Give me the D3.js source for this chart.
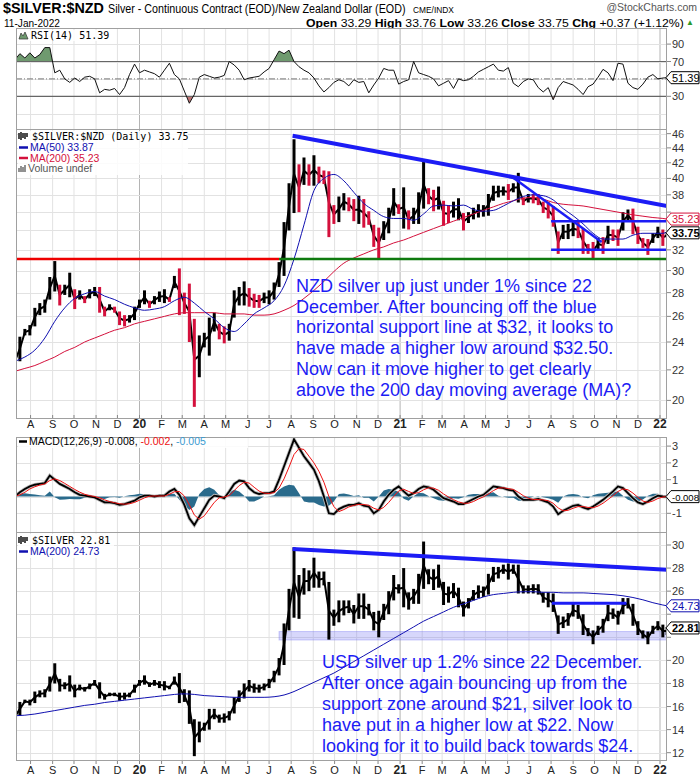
<!DOCTYPE html>
<html><head><meta charset="utf-8">
<script src="https://cdn.jsdelivr.net/npm/d3@7/dist/d3.min.js"></script>
<style>body{margin:0;background:#fff}svg{display:block}</style>
</head><body>
<svg id="c" width="700" height="780"></svg>
<script>
// ---------------- DATA ----------------
const weekStart = "2019-07-10";          // weekly samples (mid-week), 131 weeks + last day
const lastDay = "2022-01-11";
const monthLetters = ["J","F","M","A","M","J","J","A","S","O","N","D"];

// $SILVER:$NZD weekly high / low
const nzdHigh = [
22.9,24.4,25.0,25.3,26.7,27.1,27.4,29.4,30.9,28.7,
28.7,29.8,28.3,28.2,27.7,28.3,28.5,28.5,26.8,27.0,
26.8,26.4,26.1,26.1,26.8,27.4,28.2,27.3,27.7,28.1,
28.3,27.6,29.5,30.2,28.0,28.8,25.8,24.5,24.7,25.9,
26.3,25.4,25.2,25.4,28.2,28.5,29.0,28.4,27.9,27.8,
28.0,28.2,28.9,30.8,34.9,39.4,45.2,41.8,42.7,41.8,
43.0,41.5,41.0,40.9,36.8,37.8,38.2,37.7,37.5,37.9,
37.5,36.1,34.6,34.3,35.0,36.5,38.8,36.9,38.9,36.2,
36.5,38.3,42.1,38.8,38.6,39.0,37.3,36.8,37.2,37.6,
35.9,36.0,36.5,36.9,36.8,38.1,39.1,39.1,39.0,39.3,
39.4,40.7,37.7,38.1,38.1,38.1,37.2,37.2,36.7,33.9,
34.6,34.7,35.0,34.9,34.2,32.6,32.8,33.2,33.3,34.5,
34.1,34.1,36.0,36.3,36.4,34.4,33.2,33.1,33.7,34.4,
34.1,33.76];
const nzdLow = [
22.3,22.6,24.5,24.5,25.2,26.1,26.3,27.4,28.1,26.9,
27.8,27.6,26.6,27.4,27.1,27.5,27.7,26.3,26.0,26.5,
26.3,25.3,25.2,25.5,25.7,26.7,27.0,26.7,27.0,27.2,
27.1,27.2,28.4,26.1,26.2,24.0,19.6,21.5,23.6,23.0,
24.8,24.2,23.9,24.1,25.9,26.9,26.9,26.8,26.7,26.7,
27.1,27.0,27.4,28.5,29.5,34.0,35.9,36.0,39.2,39.1,
39.1,39.4,39.3,33.3,34.7,34.9,36.2,36.1,35.0,34.7,
34.3,34.6,32.3,31.1,33.0,33.7,35.6,35.8,34.2,34.1,
34.7,34.7,36.4,36.9,36.1,36.3,34.5,34.8,35.4,35.1,
34.0,34.8,35.2,35.4,35.5,35.6,37.3,37.7,37.9,37.4,
38.3,37.1,36.8,37.1,37.0,36.8,35.9,35.3,34.4,31.6,
33.1,33.1,33.4,33.2,31.6,31.6,31.0,32.0,31.6,32.6,
32.9,32.4,34.0,35.0,33.6,32.6,32.2,31.5,32.7,33.2,
32.4,33.26];

// $SILVER (USD) weekly high / low
const usdHigh = [
15.3,16.4,16.6,16.6,17.3,17.4,17.5,18.6,19.75,18.4,
18.1,18.7,17.9,17.9,17.7,18.0,18.3,18.1,17.1,17.2,
17.2,17.2,17.2,17.2,17.9,18.3,18.7,18.1,18.3,18.2,
18.2,17.8,18.6,18.9,17.5,17.4,14.9,14.7,14.6,15.8,
15.8,15.3,15.4,15.6,16.8,17.4,18.0,18.3,18.0,17.9,
18.0,18.4,19.1,20.2,23.2,26.2,29.8,27.4,28.0,27.8,
28.9,27.7,27.7,26.8,24.4,25.2,25.2,25.2,24.8,25.8,
25.8,24.9,24.2,24.3,24.9,26.0,27.4,26.6,28.0,25.9,
26.2,27.5,30.3,27.9,27.9,28.3,26.8,26.4,26.7,26.3,
25.1,25.4,26.1,26.5,26.4,27.5,28.1,28.1,28.3,28.4,
28.3,28.3,26.5,26.5,26.6,26.6,25.9,25.9,25.8,23.9,
23.8,24.1,24.9,24.8,24.0,22.8,22.6,23.0,23.6,24.8,
24.5,24.3,25.4,25.4,24.9,23.4,22.6,22.5,23.0,23.4,
23.1,22.9];
const usdLow = [
14.9,15.2,16.3,16.1,16.3,16.8,16.8,17.3,18.0,17.3,
17.5,17.3,16.8,17.4,17.3,17.5,17.8,16.7,16.6,16.9,
16.9,16.5,16.6,16.8,17.2,17.8,17.9,17.7,17.8,17.6,
17.4,17.5,17.9,16.3,16.4,14.5,11.7,12.9,13.9,14.0,
14.9,14.6,14.6,14.8,15.4,16.4,16.7,17.3,17.2,17.2,
17.4,17.6,18.1,18.7,19.6,22.6,23.7,23.6,25.7,26.0,
26.3,26.3,26.5,21.8,23.0,23.3,23.9,24.1,23.2,23.6,
23.6,23.9,22.6,22.0,23.5,24.0,25.2,25.8,24.6,24.4,
24.9,24.9,26.2,26.6,26.1,26.3,24.8,25.0,25.4,24.6,
23.8,24.5,25.2,25.4,25.5,25.7,26.8,27.1,27.5,27.0,
27.5,25.8,25.8,25.8,25.8,25.7,25.0,24.6,24.2,22.3,
22.8,23.0,23.8,23.6,22.2,22.1,21.4,22.2,22.4,23.4,
23.6,23.1,24.0,24.5,23.0,22.2,21.9,21.4,22.3,22.6,
22.0,22.2];

// moving averages sampled every second week (+ last day)
const nzdMa50 = [
22.6,22.9,23.4,24.3,25.6,26.7,27.5,27.9,28.1,27.7,
27.4,27.0,26.7,26.5,26.6,26.8,27.3,27.6,27.1,26.4,
25.8,25.1,24.8,25.4,26.2,26.7,27.3,28.6,31.1,34.6,
38.5,40.0,40.5,39.7,38.3,37.0,36.2,35.5,35.3,35.3,
35.1,35.8,36.7,36.8,36.7,36.8,36.3,36.1,36.2,36.7,
37.3,37.8,38.0,37.9,37.4,36.4,35.6,34.7,33.7,33.1,
33.1,33.1,33.5,33.7,33.7,33.7,33.87];
const nzdMa200 = [
21.9,22.1,22.3,22.6,22.9,23.3,23.6,24.0,24.3,24.6,
24.9,25.1,25.4,25.6,25.8,26.0,26.2,26.3,26.3,26.3,
26.3,26.2,26.2,26.2,26.1,26.1,26.2,26.5,26.9,27.5,
28.2,29.0,29.9,30.7,31.2,31.6,32.0,32.3,32.7,33.0,
33.4,33.8,34.2,34.6,35.0,35.4,35.8,36.2,36.6,37.0,
37.3,37.6,37.7,37.5,37.1,36.9,36.8,36.7,36.5,36.3,
36.1,35.9,35.7,35.55,35.4,35.3,35.23];
const usdMa200 = [
15.2,15.25,15.35,15.5,15.65,15.8,15.95,16.1,16.2,16.35,
16.45,16.55,16.65,16.75,16.85,16.95,17.05,17.1,17.05,16.95,
16.9,16.85,16.8,16.8,16.8,16.8,16.85,17.0,17.3,17.7,
18.1,18.5,18.9,19.4,19.9,20.4,20.9,21.4,21.9,22.4,
22.9,23.4,23.8,24.2,24.6,24.9,25.2,25.5,25.7,25.8,
25.9,25.95,25.95,25.9,25.9,25.85,25.85,25.85,25.8,25.75,
25.7,25.6,25.45,25.25,25.0,24.8,24.73];

// RSI(14) weekly
const rsi = [
72,79,74,80,74,78,86,86,57,60,
50,46,51,47,52,53,50,34,38,37,
39,32,40,55,67,57,60,58,56,52,
60,68,55,50,36,22,32,52,55,53,
51,52,54,70,66,60,49,51,52,53,
58,62,72,82,79,83,70,64,60,57,
51,42,35,40,46,49,47,42,49,46,
47,34,43,51,62,60,60,44,47,49,
70,57,55,53,50,42,45,48,39,50,
48,49,53,58,61,64,67,60,59,63,
45,41,47,50,49,40,35,40,26,40,
47,45,43,38,32,41,44,52,61,57,
48,68,67,45,40,38,44,52,55,50,
51,51.39];

// MACD(12,26,9) weekly: line, signal, histogram
const macd = [
0.0,0.25,0.45,0.6,0.7,0.75,0.8,1.25,1.0,0.75,
0.6,0.45,0.25,0.1,0.05,0.0,-0.05,-0.2,-0.35,-0.35,
-0.4,-0.5,-0.45,-0.35,-0.25,-0.05,0.05,0.05,0.0,0.05,
0.05,0.3,0.45,0.1,-0.5,-1.3,-1.7,-1.2,-0.7,-0.2,
0.05,0.0,-0.1,0.3,0.75,0.95,0.9,0.5,0.25,0.15,
0.2,0.2,0.3,1.0,1.8,2.6,3.4,2.9,2.4,2.0,
1.6,0.9,0.0,-1.0,-1.05,-0.75,-0.6,-0.5,-0.5,-0.4,
-0.55,-0.6,-1.0,-0.8,-0.3,0.1,0.4,0.6,0.3,0.05,
0.2,0.45,0.6,0.55,0.4,0.15,-0.1,-0.2,-0.3,-0.45,
-0.45,-0.3,-0.15,0.0,0.1,0.35,0.6,0.55,0.5,0.4,
0.35,0.0,-0.2,-0.2,-0.2,-0.15,-0.25,-0.35,-0.6,-1.05,
-0.85,-0.7,-0.55,-0.5,-0.65,-0.75,-0.6,-0.4,-0.2,0.05,
0.3,0.6,0.5,0.2,-0.1,-0.35,-0.45,-0.3,-0.1,0.05,
0.0,-0.008];
const macdSignal = [
0.0,0.1,0.25,0.45,0.58,0.68,0.75,0.95,1.05,0.95,
0.78,0.6,0.42,0.26,0.13,0.05,0.0,-0.08,-0.2,-0.3,
-0.37,-0.43,-0.46,-0.43,-0.35,-0.22,-0.08,0.02,0.03,0.03,
0.03,0.13,0.28,0.3,0.03,-0.5,-1.1,-1.35,-1.15,-0.75,
-0.35,-0.07,-0.03,0.06,0.35,0.65,0.85,0.8,0.55,0.32,
0.2,0.18,0.23,0.5,1.05,1.75,2.5,2.85,2.8,2.4,
2.0,1.5,0.85,0.0,-0.6,-0.9,-0.78,-0.62,-0.53,-0.47,
-0.48,-0.52,-0.7,-0.8,-0.65,-0.35,0.0,0.33,0.43,0.3,
0.18,0.23,0.4,0.52,0.5,0.37,0.15,-0.03,-0.19,-0.32,
-0.4,-0.4,-0.3,-0.15,-0.02,0.15,0.35,0.5,0.52,0.47,
0.42,0.25,0.05,-0.1,-0.18,-0.18,-0.2,-0.25,-0.4,-0.68,
-0.85,-0.82,-0.7,-0.6,-0.6,-0.65,-0.67,-0.57,-0.4,-0.18,
0.05,0.3,0.45,0.4,0.2,-0.05,-0.27,-0.35,-0.27,-0.12,
-0.03,-0.002];
const macdHist = [
0.0,0.15,0.2,0.15,0.12,0.07,0.05,0.3,-0.05,-0.2,
-0.18,-0.15,-0.17,-0.16,-0.08,-0.05,-0.05,-0.12,-0.15,-0.05,
-0.03,-0.07,0.01,0.08,0.1,0.17,0.13,0.03,-0.03,0.02,
0.02,0.17,0.17,-0.2,-0.53,-0.8,-0.6,0.15,0.45,0.55,
0.4,0.07,-0.07,0.24,0.4,0.3,0.05,-0.3,-0.3,-0.17,
0.0,0.02,0.07,0.4,0.6,0.7,0.65,0.2,-0.3,-0.35,
-0.35,-0.5,-0.6,-0.55,-0.3,0.15,0.18,0.12,0.03,0.07,
-0.07,-0.08,-0.3,0.0,0.35,0.45,0.4,0.27,-0.13,-0.25,
0.02,0.22,0.2,0.03,-0.1,-0.22,-0.25,-0.17,-0.11,-0.13,
-0.05,0.1,0.15,0.15,0.12,0.2,0.25,0.05,-0.02,-0.07,
-0.07,-0.25,-0.25,-0.1,-0.02,0.03,-0.05,-0.1,-0.2,-0.37,
0.0,0.12,0.15,0.1,-0.05,-0.1,0.07,0.17,0.2,0.23,
0.25,0.3,0.05,-0.2,-0.3,-0.3,-0.18,0.05,0.17,0.17,
0.03,-0.005];

// drawn annotations (dates, values)
const nzdTrendDates = ["2020-08-03","2022-01-11"], nzdTrendVals = [45.7, 36.7];
const nzdTrend2Dates = ["2021-06-07","2021-10-11"], nzdTrend2Vals = [40.2, 32.8];
const nzdBoxDates = ["2021-08-01","2022-01-11"], nzdBoxVals = [35.0, 32.0];
const nzdSupportVal = 31.1, nzdSupportSplit = "2020-07-15";
const usdTrendDates = ["2020-08-03","2022-01-11"], usdTrendVals = [29.65, 27.85];
const usdResistDates = ["2021-08-02","2021-11-15"], usdResistVal = 24.95;
const usdBandDates = ["2020-07-15","2022-01-11"], usdBandVals = [21.77, 22.5];

const nzdNote = ["NZD silver up just under 1% since 22","December. After bouncing off the blue",
 "horizontal support line at $32, it looks to","have made a higher low around $32.50.",
 "Now can it move higher to get clearly","above the 200 day moving average (MA)?"];
const usdNote = ["USD silver up 1.2% since 22 December.","After once again bouncing up from the",
 "support zone around $21, silver look to","have put in a higher low at $22. Now",
 "looking for it to build back towards $24."];

const mainTicks = [20,22,24,26,28,30,32,34,36,38,40,42,44,46];
const usdTicks = [12,14,16,18,20,22,24,26,28,30];
const rsiTicks = [30,70,90];
const rsiGrid = [10,30,50,70,90];
const macdTicks = [-1,0,1,2,3];
const headerLabels = ["Open","High","Low","Close","Chg"];
const headerValues = ["33.29","33.76","33.26","33.75","+0.37 (+1.12%)"];

// ---------------- LAYOUT ----------------
const parse = d3.timeParse("%Y-%m-%d");
const dates = d3.range(131).map(i => d3.timeDay.offset(parse(weekStart), 7*i)).concat([parse(lastDay)]);
const maIdx = d3.range(0,131,2).concat([131]);
const maDates = maIdx.map(i => dates[i]);

const L = 16, R = 667;
const P = {rsi:[28,129], main:[129,418], macd:[437,532], usd:[532,760]};
const x = d3.scaleTime().domain([parse("2020-01-01"), parse("2022-01-01")]).range([139.5, 660]);
const yR = d3.scaleLinear().domain([30,70]).range([96.3,61.5]);
const yM = d3.scaleLog().domain([18.93,46.6]).range([418,129.5]);
const yD = d3.scaleLinear().domain([0,3]).range([496.5,446.1]);
const yU = d3.scaleLinear().domain([12,30]).range([752.7,545]);

const svg = d3.select("#c");
const FONT = "'Liberation Sans', Arial, sans-serif";
const NARROW = "'Liberation Sans Narrow','Arial Narrow','Liberation Sans',Arial,sans-serif";
const MONO = "'DejaVu Sans Mono', monospace";
const BLUE = "#1c1cf5";
const RED = "#d4103c";
const defs = svg.append("defs");
Object.entries(P).forEach(([k,[t,b]]) => {
  defs.append("clipPath").attr("id","clip-"+k).append("rect").attr("x",L).attr("y",t).attr("width",R-L).attr("height",b-t);
});
const months = d3.timeMonth.range(parse("2019-08-01"), parse("2022-01-02"));

function panel(key, yScale, gridVals) {
  const [t,b] = P[key];
  const g = svg.append("g");
  months.forEach(m => {
    g.append("line").attr("x1",x(m)).attr("x2",x(m)).attr("y1",t).attr("y2",b)
     .attr("stroke", m.getMonth()===0 ? "#b4b4b4" : "#e2e2e2").attr("stroke-width",1);
  });
  gridVals.forEach(v => {
    const yy = Math.round(yScale(v))+0.5;
    if (yy>t && yy<b) g.append("line").attr("x1",L).attr("x2",R).attr("y1",yy).attr("y2",yy).attr("stroke","#e2e2e2");
  });
  return g;
}
function frame(key) {
  const [t,b] = P[key];
  svg.append("rect").attr("x",L+0.5).attr("y",t+0.5).attr("width",R-L-1).attr("height",b-t).attr("fill","none").attr("stroke","#a0a0a0");
}
// labels; those hidden under a value tag are skipped
function yLabels(vals, yScale, key, tagYs) {
  const [t,b] = P[key];
  vals.forEach(v => {
    const yy = yScale(v);
    if (yy < t-2 || yy > b+2) return;
    svg.append("line").attr("x1",R).attr("x2",R+4).attr("y1",yy).attr("y2",yy).attr("stroke","#888");
    if (tagYs.some(ty => Math.abs(ty-yy) < 11.5)) return;
    svg.append("text").attr("x",R+5).attr("y",yy+4).text(v).style("font","11px "+FONT).attr("fill","#333");
  });
}
function tag(yy, label, color, bold, size) {
  svg.append("path").attr("d",`M${R-1},${yy} L${R+4},${yy-6} L699,${yy-6} L699,${yy+6} L${R+4},${yy+6} Z`)
    .attr("fill","#fff").attr("stroke",color).attr("stroke-width",1);
  svg.append("text").attr("x",R+5).attr("y",yy+4).text(label).attr("fill",color)
    .style("font",(bold?"bold ":"")+(size||11)+"px "+FONT);
}
function xLabels(yy) {
  months.forEach(m => {
    const isY = m.getMonth()===0;
    svg.append("line").attr("x1",x(m)).attr("x2",x(m)).attr("y1",yy-13).attr("y2",yy-10).attr("stroke","#888");
    svg.append("text").attr("x",x(m)).attr("y",yy).attr("text-anchor","middle")
      .text(isY ? String(m.getFullYear()).slice(2) : monthLetters[m.getMonth()])
      .style("font",(isY?"bold 12px ":"11px ")+NARROW).attr("fill","#222");
  });
}
function legendBox(xx,yy,w,h){ svg.append("rect").attr("x",xx).attr("y",yy).attr("width",w).attr("height",h).attr("fill","#fff").attr("opacity",0.85); }
function priceBars(g, hi, lo, y, colorFn) {
  const pts = hi.map((h,i)=>({d:dates[i],h,l:lo[i],m:(h+lo[i])/2}));
  g.append("path").datum(pts).attr("fill","none").attr("stroke","#000").attr("stroke-width",2)
    .attr("d", d3.line().x(d=>x(d.d)).y(d=>y(d.m)));
  g.selectAll(null).data(pts).join("line")
    .attr("x1",d=>x(d.d)).attr("x2",d=>x(d.d)).attr("y1",d=>y(d.h)).attr("y2",d=>y(d.l))
    .attr("stroke",(d,i)=>colorFn(d,i,pts)).attr("stroke-width",3);
}
// condensed text: squeeze horizontally to a target width (or factor), anchored at x
function fitText(txt, xx, yy, font, target, anchorEnd) {
  const t = svg.append("text").attr("x",0).attr("y",0).style("font",font);
  if (typeof txt === "function") txt(t); else t.text(txt);
  const w = t.node().getComputedTextLength();
  const k = target / w;
  const x0 = anchorEnd ? xx - target : xx;
  t.attr("transform",`translate(${x0},${yy}) scale(${k},1)`);
  return t;
}

// ---------------- HEADER ----------------
fitText("$SILVER:$NZD", 3, 12.5, "bold 15px "+FONT, 101);
fitText("Silver - Continuous Contract (EOD)/New Zealand Dollar (EOD)", 108, 12.5, "12px "+FONT, 298);
fitText("CME/INDX", 413, 12.5, "9.5px "+FONT, 41);
svg.append("text").attr("x",697).attr("y",11).attr("text-anchor","end").text("@StockCharts.com").style("font","10.5px "+FONT).attr("fill","#555");
fitText("11-Jan-2022", 4, 26.5, "11.5px "+FONT, 56);
fitText(t => {
  headerLabels.forEach((l,i) => {
    t.append("tspan").text(l+" ").style("font-weight","bold");
    t.append("tspan").text(headerValues[i] + (i<headerLabels.length-1?" ":""));
  });
}, 684, 26.5, "11.5px "+FONT, 378, true);
svg.append("text").attr("x",686).attr("y",25).text("▲").style("font","8px "+FONT).attr("fill","#2a9a2a");

// ---------------- RSI PANEL ----------------
panel("rsi", yR, rsiGrid);
const gR = svg.append("g").attr("clip-path","url(#clip-rsi)");
const rsiPts = rsi.map((v,i)=>({d:dates[i],v}));
defs.append("clipPath").attr("id","rsiHi").append("rect").attr("x",L).attr("y",P.rsi[0]).attr("width",R-L).attr("height",yR(70)-P.rsi[0]);
defs.append("clipPath").attr("id","rsiLo").append("rect").attr("x",L).attr("y",yR(30)).attr("width",R-L).attr("height",P.rsi[1]-yR(30));
gR.append("path").datum(rsiPts).attr("clip-path","url(#rsiHi)").attr("fill","#6f9a6f")
  .attr("d", d3.area().x(d=>x(d.d)).y0(yR(70)).y1(d=>yR(d.v)));
gR.append("path").datum(rsiPts).attr("clip-path","url(#rsiLo)").attr("fill","#c07676")
  .attr("d", d3.area().x(d=>x(d.d)).y0(yR(30)).y1(d=>yR(d.v)));
[70,30].forEach(v=>gR.append("line").attr("x1",L).attr("x2",R).attr("y1",yR(v)).attr("y2",yR(v)).attr("stroke","#666").attr("stroke-width",1.2));
gR.append("line").attr("x1",L).attr("x2",R).attr("y1",yR(50)).attr("y2",yR(50)).attr("stroke","#777").attr("stroke-dasharray","6,2,1,2");
gR.append("path").datum(rsiPts).attr("fill","none").attr("stroke","#111").attr("stroke-width",1)
  .attr("d", d3.line().x(d=>x(d.d)).y(d=>yR(d.v)));
frame("rsi");
yLabels(rsiTicks, yR, "rsi", [yR(51.39)]);
tag(yR(51.39), "51.39", "#000", false);
legendBox(18,30,94,11);
svg.append("path").attr("d","M19,39 L21,33 L23,36 L25,32 L28,39 Z").attr("fill","#6f9a6f").attr("stroke","#333").attr("stroke-width",0.7);
svg.append("text").attr("x",31).attr("y",39).text("RSI(14) 51.39").style("font","10px "+MONO);

// ---------------- MAIN PANEL ----------------
panel("main", yM, mainTicks);
const gM = svg.append("g").attr("clip-path","url(#clip-main)");
priceBars(gM, nzdHigh, nzdLow, yM, (d,i,p)=> i>0 && d.m < p[i-1].m ? RED : "#000");
const maLineM = d3.line().x(d=>x(d.d)).y(d=>yM(d.v)).curve(d3.curveMonotoneX);
gM.append("path").datum(nzdMa200.map((v,i)=>({d:maDates[i],v}))).attr("fill","none").attr("stroke",RED).attr("stroke-width",1).attr("d",maLineM);
gM.append("path").datum(nzdMa50.map((v,i)=>({d:maDates[i],v}))).attr("fill","none").attr("stroke","#1010b0").attr("stroke-width",1).attr("d",maLineM);
gM.append("line").attr("x1",L).attr("x2",x(parse(nzdSupportSplit))).attr("y1",yM(nzdSupportVal)).attr("y2",yM(nzdSupportVal)).attr("stroke","#ee0000").attr("stroke-width",2.5);
gM.append("line").attr("x1",x(parse(nzdSupportSplit))).attr("x2",R).attr("y1",yM(nzdSupportVal)).attr("y2",yM(nzdSupportVal)).attr("stroke","#0f7a0f").attr("stroke-width",2.5);
gM.append("line").attr("x1",x(parse(nzdTrendDates[0]))).attr("x2",x(parse(nzdTrendDates[1])))
  .attr("y1",yM(nzdTrendVals[0])).attr("y2",yM(nzdTrendVals[1])).attr("stroke",BLUE).attr("stroke-width",4);
gM.append("line").attr("x1",x(parse(nzdTrend2Dates[0]))).attr("x2",x(parse(nzdTrend2Dates[1])))
  .attr("y1",yM(nzdTrend2Vals[0])).attr("y2",yM(nzdTrend2Vals[1])).attr("stroke",BLUE).attr("stroke-width",2.5);
nzdBoxVals.forEach(v=>gM.append("line").attr("x1",x(parse(nzdBoxDates[0]))).attr("x2",x(parse(nzdBoxDates[1])))
  .attr("y1",yM(v)).attr("y2",yM(v)).attr("stroke",BLUE).attr("stroke-width",2.5));
nzdNote.forEach((t,i)=> svg.append("text").attr("x",296).attr("y",292+i*20.7).text(t).style("font","18px "+FONT).attr("fill",BLUE));
frame("main");
yLabels(mainTicks, yM, "main", [yM(35.23), yM(33.75)]);
tag(yM(35.23), "35.23", RED, false);
tag(yM(33.75), "33.75", "#000", true);
legendBox(18,131,170,44);
svg.append("path").attr("d","M19,139 v-6 M21,140 v-8 M23,138 v-5 M25,139 v-6 M27,137 v-4").attr("stroke","#000").attr("stroke-width",1.4);
svg.append("text").attr("x",32).attr("y",140).text("$SILVER:$NZD (Daily) 33.75").style("font","10px "+MONO);
svg.append("line").attr("x1",19).attr("x2",28).attr("y1",147.5).attr("y2",147.5).attr("stroke","#1010b0").attr("stroke-width",2.5);
svg.append("text").attr("x",30).attr("y",151).text("MA(50) 33.87").style("font","10.5px "+FONT).attr("fill","#1010b0");
svg.append("line").attr("x1",19).attr("x2",28).attr("y1",158).attr("y2",158).attr("stroke",RED).attr("stroke-width",2.5);
svg.append("text").attr("x",30).attr("y",161.5).text("MA(200) 35.23").style("font","10.5px "+FONT).attr("fill",RED);
svg.append("path").attr("d","M19,172 v-4 M21,172 v-6 M23,172 v-5 M25,172 v-7").attr("stroke","#777").attr("stroke-width",1.6);
svg.append("text").attr("x",28).attr("y",172).text("Volume undef").style("font","10.5px "+FONT).attr("fill","#555");
xLabels(428);

// ---------------- MACD PANEL ----------------
panel("macd", yD, macdTicks);
const gD = svg.append("g").attr("clip-path","url(#clip-macd)");
gD.append("path").datum(macdHist.map((v,i)=>({d:dates[i],v}))).attr("fill","#2a6b8c")
  .attr("d", d3.area().x(d=>x(d.d)).y0(yD(0)).y1(d=>yD(d.v)));
gD.append("path").datum(macd.map((v,i)=>({d:dates[i],v}))).attr("fill","none").attr("stroke","#bbb").attr("stroke-width",3.5)
  .attr("d", d3.line().x(d=>x(d.d)).y(d=>yD(d.v)));
gD.append("path").datum(macd.map((v,i)=>({d:dates[i],v}))).attr("fill","none").attr("stroke","#000").attr("stroke-width",1.8)
  .attr("d", d3.line().x(d=>x(d.d)).y(d=>yD(d.v)));
gD.append("path").datum(macdSignal.map((v,i)=>({d:dates[i],v}))).attr("fill","none").attr("stroke","#ee1111").attr("stroke-width",1)
  .attr("d", d3.line().x(d=>x(d.d)).y(d=>yD(d.v)));
frame("macd");
yLabels(macdTicks, yD, "macd", [yD(-0.008)]);
tag(yD(-0.008), "-0.008", "#000", false, 9.5);
legendBox(18,438,230,10);
svg.append("line").attr("x1",19).attr("x2",27).attr("y1",441.5).attr("y2",441.5).attr("stroke","#000").attr("stroke-width",2.5);
const mt = svg.append("text").attr("x",29).attr("y",445).style("font","10.5px "+FONT);
mt.append("tspan").text("MACD(12,26,9) -0.008, ");
mt.append("tspan").text("-0.002").attr("fill","#ee1111");
mt.append("tspan").text(", ");
mt.append("tspan").text("-0.005").attr("fill","#3a9ad0");

// ---------------- USD PANEL ----------------
panel("usd", yU, usdTicks);
const gU = svg.append("g").attr("clip-path","url(#clip-usd)");
gU.append("rect").attr("x",x(parse(usdBandDates[0]))).attr("width",x(parse(usdBandDates[1]))-x(parse(usdBandDates[0])))
  .attr("y",yU(usdBandVals[1])).attr("height",yU(usdBandVals[0])-yU(usdBandVals[1]))
  .attr("fill","rgba(110,110,240,0.28)").attr("stroke","rgba(110,110,240,0.35)");
priceBars(gU, usdHigh, usdLow, yU, ()=>"#000");
gU.append("path").datum(usdMa200.map((v,i)=>({d:maDates[i],v}))).attr("fill","none").attr("stroke","#1010b0").attr("stroke-width",1)
  .attr("d", d3.line().x(d=>x(d.d)).y(d=>yU(d.v)).curve(d3.curveMonotoneX));
gU.append("line").attr("x1",x(parse(usdTrendDates[0]))).attr("x2",x(parse(usdTrendDates[1])))
  .attr("y1",yU(usdTrendVals[0])).attr("y2",yU(usdTrendVals[1])).attr("stroke",BLUE).attr("stroke-width",4);
gU.append("line").attr("x1",x(parse(usdResistDates[0]))).attr("x2",x(parse(usdResistDates[1])))
  .attr("y1",yU(usdResistVal)).attr("y2",yU(usdResistVal)).attr("stroke",BLUE).attr("stroke-width",3);
usdNote.forEach((t,i)=> svg.append("text").attr("x",322).attr("y",668+i*21).text(t).style("font","18px "+FONT).attr("fill",BLUE));
frame("usd");
yLabels(usdTicks, yU, "usd", [yU(24.73), yU(22.81)]);
tag(yU(24.73), "24.73", "#1010b0", false);
tag(yU(22.81), "22.81", "#000", true);
legendBox(18,534,96,24);
svg.append("path").attr("d","M19,543 v-6 M21,544 v-8 M23,542 v-5 M25,543 v-6 M27,541 v-4").attr("stroke","#000").attr("stroke-width",1.4);
svg.append("text").attr("x",32).attr("y",544).text("$SILVER 22.81").style("font","10px "+MONO);
svg.append("line").attr("x1",19).attr("x2",28).attr("y1",551.5).attr("y2",551.5).attr("stroke","#1010b0").attr("stroke-width",2.5);
svg.append("text").attr("x",30).attr("y",555).text("MA(200) 24.73").style("font","10.5px "+FONT).attr("fill","#1010b0");
xLabels(774);
</script>
</body></html>
